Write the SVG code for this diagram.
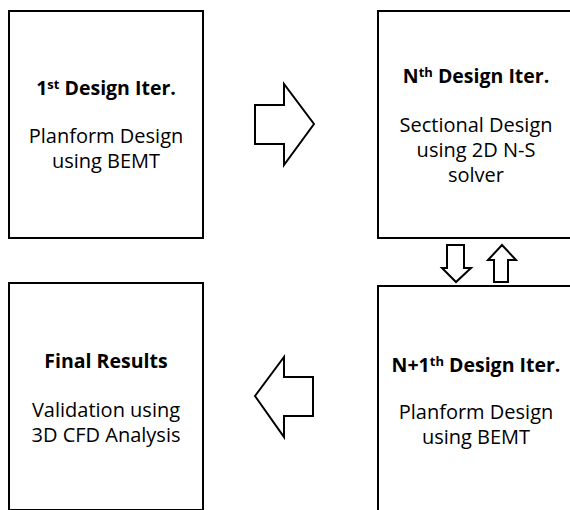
<svg xmlns="http://www.w3.org/2000/svg" width="570" height="510" viewBox="0 0 570 510">
<style>
.box{fill:#fff;stroke:#000;stroke-width:2}
.arr{fill:#fff;stroke:#000;stroke-width:2;stroke-linejoin:miter}
text{font-family:"Open Sans","Noto Sans","DejaVu Sans",sans-serif;text-anchor:middle;fill:#000}
.t{font-size:19.5px;font-weight:bold}
.b{font-size:20px}
.sup{font-size:13px}
</style>
<rect width="570" height="510" fill="#fff"/>
<g id="node1">
<rect class="box" x="9" y="11" width="194" height="227"/>
<text class="t" x="106" y="95">1<tspan class="sup" dy="-6">st</tspan><tspan dy="6"> Design Iter.</tspan></text>
<text class="b" x="106" y="143">Planform Design</text>
<text class="b" x="106" y="168">using BEMT</text>
</g>
<g id="node2">
<rect class="box" x="378" y="11" width="200" height="227"/>
<text class="t" x="476" y="83">N<tspan class="sup" dy="-6">th</tspan><tspan dy="6"> Design Iter.</tspan></text>
<text class="b" x="476" y="132">Sectional Design</text>
<text class="b" x="476" y="157">using 2D N-S</text>
<text class="b" x="476" y="182">solver</text>
</g>
<g id="node3">
<rect class="box" x="9" y="283" width="194" height="227"/>
<text class="t" x="106" y="368">Final Results</text>
<text class="b" x="106" y="417">Validation using</text>
<text class="b" x="106" y="442">3D CFD Analysis</text>
</g>
<g id="node4">
<rect class="box" x="378" y="286" width="200" height="227"/>
<text class="t" x="476" y="372">N+1<tspan class="sup" dy="-6">th</tspan><tspan dy="6"> Design Iter.</tspan></text>
<text class="b" x="476" y="419">Planform Design</text>
<text class="b" x="476" y="444">using BEMT</text>
</g>
<g id="connectors">
<polygon class="arr" points="255,105 284,105 284,84 314,124 284,165 284,144 255,144"/>
<polygon class="arr" points="313,377 284,377 284,357 255,396 284,437 284,416 313,416"/>
<polygon class="arr" points="447,245 464,245 464,268 471,268 456,282 442,268 447,268"/>
<polygon class="arr" points="494,282 508,282 508,260 516,260 502,245 488,260 494,260"/>
</g>
</svg>
